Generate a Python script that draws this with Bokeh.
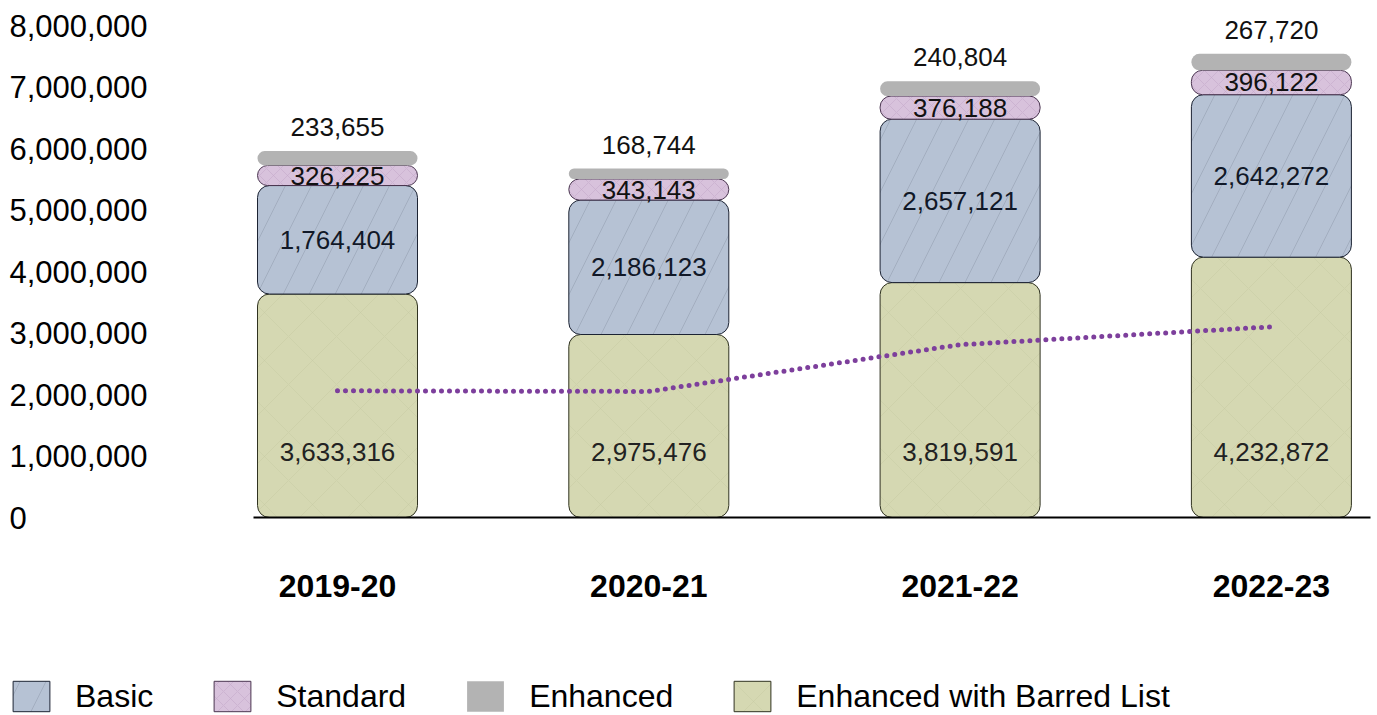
from bokeh.plotting import figure
from bokeh.models import ColumnDataSource, Legend, LegendItem, Range1d
from bokeh.core.properties import value
from bokeh.embed import file_html
from bokeh.resources import INLINE

# ---- data ----
years = ["2019-20", "2020-21", "2021-22", "2022-23"]
barred = [3633316, 2975476, 3819591, 4232872]      # Enhanced with Barred List
basic = [1764404, 2186123, 2657121, 2642272]
standard = [326225, 343143, 376188, 396122]
enhanced = [233655, 168744, 240804, 267720]
trend = [2060000, 2050000, 2810000, 3100000]        # dotted trend line
y_ticks = [0, 1000000, 2000000, 3000000, 4000000, 5000000, 6000000, 7000000, 8000000]

FONT = "Liberation Sans"
W, H = 1377, 715

# ---- layout of scales ----
px_per_x = 311.3
first_center_px = 337.0
x_start = -first_center_px / px_per_x
x_end = x_start + W / px_per_x
baseline_px = 517.0
px_per_y = 61.5 / 1e6
y_start = -(H - baseline_px) / px_per_y
y_end = baseline_px / px_per_y
bar_w = 160 / px_per_x

xs = list(range(len(years)))
g_top = [b for b in barred]
b_top = [g + v for g, v in zip(g_top, basic)]
s_top = [b + v for b, v in zip(b_top, standard)]
e_top = [s + v for s, v in zip(s_top, enhanced)]
fmt = lambda v: f"{v:,}"

src = ColumnDataSource(dict(
    x=xs, year=years,
    g0=[0] * 4, g1=g_top, b1=b_top, s1=s_top, e1=e_top,
    gmid=[0] * 4,
    bmid=[(a + b) / 2 for a, b in zip(g_top, b_top)],
    smid=[(a + b) / 2 for a, b in zip(b_top, s_top)],
    glab=[fmt(v) for v in barred], blab=[fmt(v) for v in basic],
    slab=[fmt(v) for v in standard], elab=[fmt(v) for v in enhanced],
))

p = figure(width=W, height=H, output_backend="svg", toolbar_location=None,
           x_range=Range1d(x_start, x_end), y_range=Range1d(y_start, y_end),
           min_border=0, min_border_left=0, min_border_right=0,
           min_border_top=0, min_border_bottom=0)
p.xaxis.visible = False
p.yaxis.visible = False
p.xgrid.visible = False
p.ygrid.visible = False
p.outline_line_color = None
p.background_fill_color = "white"
p.border_fill_color = "white"

r_green = p.vbar(x="x", bottom="g0", top="g1", width=bar_w, source=src,
                 fill_color="#d5d8b2", line_color="#2f3220", line_width=1,
                 hatch_pattern="diagonal_cross", hatch_color="#c6caa2", hatch_alpha=0.45,
                 hatch_scale=48, hatch_weight=1, border_radius=12)
r_blue = p.vbar(x="x", bottom="g1", top="b1", width=bar_w, source=src,
                fill_color="#b6c2d4", line_color="#1c2333", line_width=1,
                hatch_pattern="right_diagonal_line", hatch_color="#8a94a6", hatch_alpha=0.45,
                hatch_scale=52, hatch_weight=1, border_radius=12)
r_purple = p.vbar(x="x", bottom="b1", top="s1", width=bar_w, source=src,
                  fill_color="#d8c2dc", line_color="#4a3550", line_width=1,
                  hatch_pattern="diagonal_cross", hatch_color="#c3a8c9", hatch_alpha=0.55,
                  hatch_scale=14, hatch_weight=1, border_radius=11)
r_gray = p.vbar(x="x", bottom="s1", top="e1", width=bar_w, source=src,
                fill_color="#b3b3b3", line_color=None, border_radius=8)

# baseline
p.segment(x0=[(253 - first_center_px) / px_per_x], y0=[0],
          x1=[(1370 - first_center_px) / px_per_x], y1=[0],
          line_color="black", line_width=2)

# dotted trend line
p.line(xs, trend, line_color="#7d3f9c", line_width=5, line_dash="0 8", line_cap="round")

# value labels
common = dict(text_font=value(FONT), text_font_size="26px", text_align="center",
              text_baseline="middle", source=src)
p.text(x="x", y="gmid", text="glab", y_offset=-66, text_color="#222222", **common)
p.text(x="x", y="bmid", text="blab", text_color="#111827", **common)
p.text(x="x", y="smid", text="slab", text_color="#111111", **common)
p.text(x="x", y="e1", text="elab", y_offset=-24, text_color="#111111", **common)

# x category labels
p.text(x="x", y="g0", text="year", y_offset=68, source=src,
       text_font=value(FONT), text_font_size="32px", text_font_style="bold",
       text_align="center", text_baseline="middle", text_color="black")

# y tick labels
tsrc = ColumnDataSource(dict(x=[x_start] * len(y_ticks), y=y_ticks,
                             t=[fmt(v) for v in y_ticks]))
p.text(x="x", y="y", text="t", x_offset=9, source=tsrc,
       text_font=value(FONT), text_font_size="31px", text_align="left",
       text_baseline="middle", text_color="black")

legend = Legend(items=[
    LegendItem(label="Basic", renderers=[r_blue]),
    LegendItem(label="Standard", renderers=[r_purple]),
    LegendItem(label="Enhanced", renderers=[r_gray]),
    LegendItem(label="Enhanced with Barred List", renderers=[r_green]),
], orientation="horizontal", location=(8, 0), margin=0, padding=0,
    spacing=56, glyph_width=46, glyph_height=38, label_standoff=21,
    label_text_font=FONT, label_text_font_size="32px", label_text_color="black",
    border_line_alpha=0, background_fill_alpha=0)
p.add_layout(legend)

open("out.html", "w").write(file_html(p, INLINE))
